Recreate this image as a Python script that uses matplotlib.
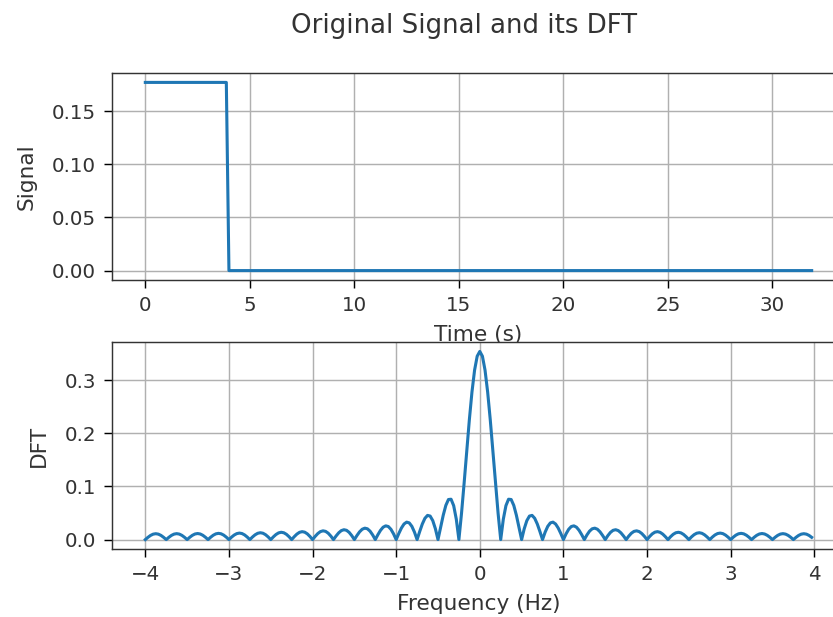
import numpy as np
import matplotlib
matplotlib.use("Agg")
import matplotlib.pyplot as plt

# Rectangular pulse: piecewise-constant levels and how long each lasts (s)
signal_levels = [0.177, 0.0]
level_durations = [4.0, 28.0]
sample_rate = 8.0  # Hz

dt = 1.0 / sample_rate
samples_per_level = [int(round(d * sample_rate)) for d in level_durations]
signal = np.repeat(signal_levels, samples_per_level)
n = signal.size
t = np.arange(n) * dt

# Orthonormal DFT, centred on zero frequency
spectrum = np.fft.fftshift(np.abs(np.fft.fft(signal, norm="ortho")))
freqs = np.fft.fftshift(np.fft.fftfreq(n, d=dt))

plt.rcParams.update({
    "xtick.labelsize": 11,
    "ytick.labelsize": 11,
    "axes.labelsize": 12,
    "xtick.major.size": 4.5,
    "ytick.major.size": 4.5,
    "xtick.major.pad": 4.3,
    "ytick.major.pad": 4.3,
    "axes.labelpad": 5.5,
    "text.color": "#333333",
    "axes.labelcolor": "#333333",
    "xtick.labelcolor": "#333333",
    "ytick.labelcolor": "#333333",
    "axes.edgecolor": "#333333",
})

W, H = 833, 617
DPI = 130
fig = plt.figure(figsize=(W / DPI, H / DPI), dpi=DPI)

def px_axes(left, top, right, bottom):
    return fig.add_axes([left / W, 1 - bottom / H, (right - left) / W, (bottom - top) / H])

ax1 = px_axes(112, 73, 845, 280)
ax1.plot(t, signal, lw=1.7)
ax1.set_xlabel("Time (s)")
ax1.set_ylabel("Signal", labelpad=8.5)
ax1.grid(True)

ax2 = px_axes(112, 342, 845, 549)
ax2.plot(freqs, spectrum, lw=1.7)
ax2.set_xlabel("Frequency (Hz)")
ax2.set_ylabel("DFT", labelpad=8.5)
ax2.grid(True)

fig.suptitle("Original Signal and its DFT", x=464 / W, y=1 - 13 / H, fontsize=14.4)

fig.savefig("out.png", dpi=DPI)
